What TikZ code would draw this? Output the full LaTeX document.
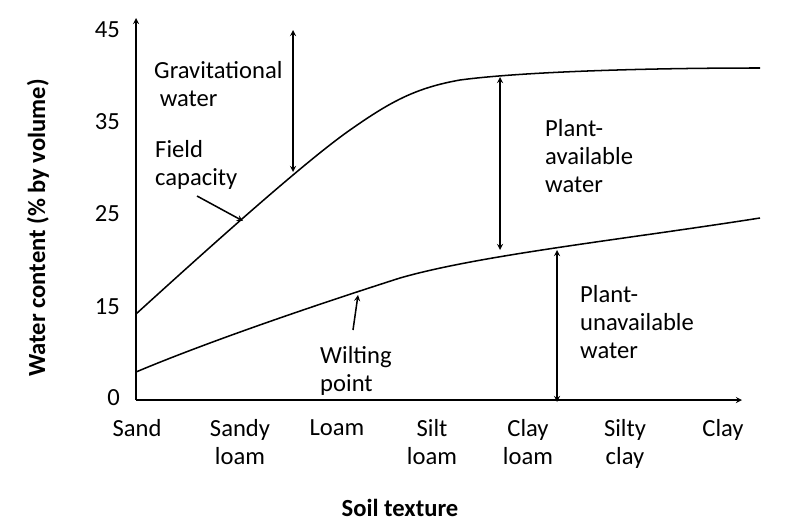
\documentclass[tikz,border=0pt]{standalone}
\usepackage{fontspec}
\setmainfont{Carlito}
\begin{document}
\begin{tikzpicture}[x=0.03cm,y=-0.03cm,font=\fontsize{21}{24}\selectfont,
  ln/.style={line width=1.3pt},
  lbl/.style={align=left,anchor=west,inner sep=0pt},
  tk/.style={align=center,anchor=north,inner sep=0pt}]
\useasboundingbox (0,0) rectangle (800,531);
\coordinate (o) at (136,400);
\coordinate (ytop) at (136,18);
\coordinate (xend) at (742,400);
\draw[ln,-stealth] (o) -- (ytop);
\draw[ln,-stealth] (o) -- (xend);
\foreach \v/\y in {45/30,35/122,25/214,15/307,0/398}
  \node[anchor=east,inner sep=0pt] (y\v) at (120,\y) {\v};
\foreach \t/\x [count=\i] in {Sand/137,Sandy\\loam/240,Loam/337,Silt\\loam/432,Clay\\loam/528,Silty\\clay/625,Clay/723}
  \node[tk] (x\i) at (\x,419) {\t};
\node[font=\fontsize{21}{24}\selectfont\bfseries] (xl) at (400,508) {Soil texture};
\node[font=\fontsize{21}{24}\selectfont\bfseries,rotate=90] (yl) at (38,228) {Water content (\% by volume)};
\draw[ln] (136,314) .. controls (190,265) and (300,165) .. (350,130)
  .. controls (390,102) and (415,88) .. (460,80)
  .. controls (520,72) and (640,68) .. (760,68);
\draw[ln] (136,372) .. controls (200,345) and (300,310) .. (400,278)
  .. controls (480,255) and (620,240) .. (760,218);
\coordinate (g1) at (293,30); \coordinate (g2) at (293,172);
\coordinate (p1) at (500,77); \coordinate (p2) at (500,250);
\coordinate (u1) at (557,250); \coordinate (u2) at (557,402);
\coordinate (f1) at (197,196); \coordinate (f2) at (243,221);
\coordinate (w1) at (353,330); \coordinate (w2) at (358,295);
\draw[ln,stealth-stealth] (g1) -- (g2);
\draw[ln,stealth-stealth] (p1) -- (p2);
\draw[ln,stealth-stealth] (u1) -- (u2);
\draw[ln,-stealth] (f1) -- (f2);
\draw[ln,-stealth] (w1) -- (w2);
\node[lbl] (tg) at (154,84) {Gravitational\\\ water};
\node[lbl] (tf) at (155,165) {Field\\capacity};
\node[lbl] (tp) at (545,156) {Plant-\\available\\water};
\node[lbl] (tu) at (580,322) {Plant-\\unavailable\\water};
\node[lbl] (tw) at (320,371) {Wilting\\point};
\end{tikzpicture}
\end{document}
